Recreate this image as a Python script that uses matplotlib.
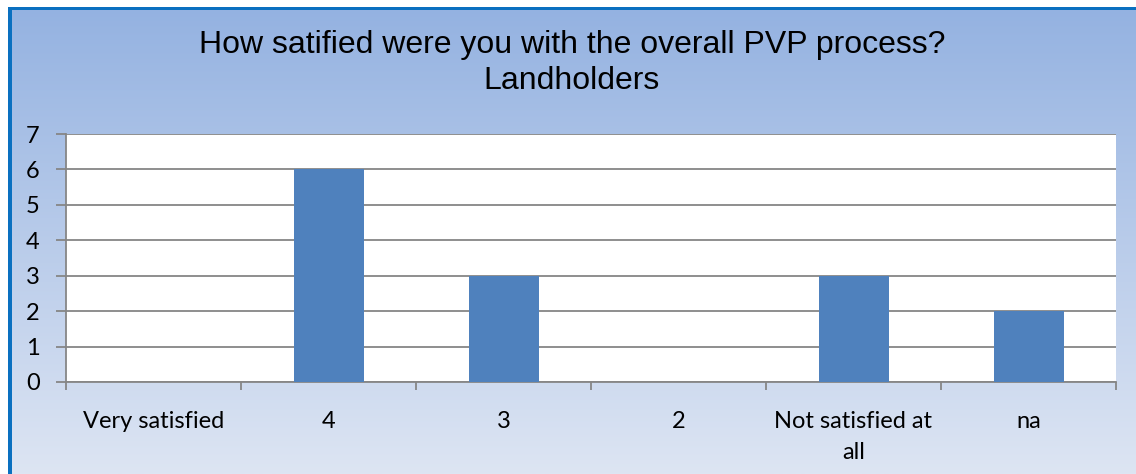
import numpy as np
import matplotlib
matplotlib.use("Agg")
import matplotlib.pyplot as plt
from matplotlib.colors import LinearSegmentedColormap

categories = ["Very satisfied", "4", "3", "2", "Not satisfied at\nall", "na"]
values = [0, 6, 3, 0, 3, 2]
yticks = [0, 1, 2, 3, 4, 5, 6, 7]
title = "How satified were you with the overall PVP process?\nLandholders"

W, H = 1136, 474
fig = plt.figure(figsize=(W / 100, H / 100), dpi=100)
fig.patch.set_facecolor("white")

# gradient chart background (frame region)
fx0, fy0 = 8, 7  # frame top-left in pixels
bw, bh = W - fx0, H - fy0
bg = fig.add_axes([fx0 / W, 0, bw / W, bh / H], zorder=0)
cmap = LinearSegmentedColormap.from_list("g", ["#94b2e1", "#dde5f3"])
grad = np.linspace(0, 1, 256).reshape(-1, 1)
bg.imshow(grad, aspect="auto", cmap=cmap, extent=[0, 1, 0, 1], origin="upper")
bg.set_xlim(0, 1); bg.set_ylim(0, 1)
bg.axis("off")
# frame border (top and left)
bg.add_patch(plt.Rectangle((0, 0), 4 / bw, 1, transform=bg.transAxes,
                           facecolor="#0a70c0", linewidth=0, zorder=5))
bg.add_patch(plt.Rectangle((0, 1 - 3 / bh), 1, 3 / bh, transform=bg.transAxes,
                           facecolor="#0a70c0", linewidth=0, zorder=5))

# plot area
px0, px1, py0, py1 = 66, 1116, 134, 382
ax = fig.add_axes([px0 / W, 1 - py1 / H, (px1 - px0) / W, (py1 - py0) / H], zorder=2)
ax.set_facecolor("white")
x = np.arange(len(categories))
ax.bar(x, values, width=0.4, color="#4f81bd", zorder=3)
ax.set_xlim(-0.5, len(categories) - 0.5)
ax.set_ylim(0, 7)
ax.set_yticks(yticks)
ax.set_yticklabels([str(v) for v in yticks], fontsize=17, family="Lato", color="black")
ax.yaxis.grid(True, color="#868686", linewidth=1.3, zorder=1)
ax.tick_params(axis="y", length=7, width=1.3, color="#868686", pad=12)
ax.set_xticks(x)
ax.set_xticklabels(categories, fontsize=17, family="Lato", color="black", linespacing=1.6)
ax.tick_params(axis="x", which="major", length=0, pad=21)
ax.set_xticks(np.arange(-0.5, len(categories)), minor=True)
ax.tick_params(axis="x", which="minor", length=6, width=1.3, color="#868686")
for s in ["top", "right"]:
    ax.spines[s].set_visible(False)
for s in ["left", "bottom"]:
    ax.spines[s].set_color("#868686")
    ax.spines[s].set_linewidth(1.3)

fig.text(572 / W, 1 - 63 / H, title, ha="center", va="center", fontsize=23,
         family="Liberation Sans", linespacing=1.25, zorder=6)

fig.savefig("out.png", dpi=100)
